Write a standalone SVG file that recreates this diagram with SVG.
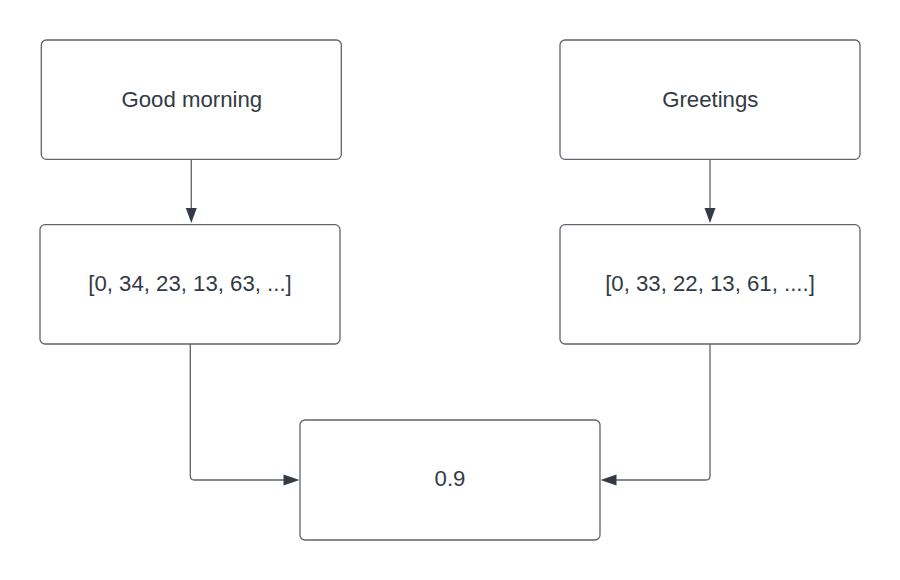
<svg xmlns="http://www.w3.org/2000/svg" width="900" height="580" viewBox="0 0 900 580">
<style>
.box{fill:#ffffff;stroke:#5f646c;stroke-width:1.3}
.lbl{font-family:"Liberation Sans",Arial,sans-serif;font-size:22.2px;fill:#333a45;text-anchor:middle}
.conn{fill:none;stroke:#5f646c;stroke-width:1.3}
.head{fill:#333a45}
</style>
<rect width="900" height="580" fill="#ffffff"/>
<g id="connectors">
<path class="conn" d="M191.3,159.3 V210"/>
<path class="head" d="M191.3,223 L185.8,208 L196.8,208 Z"/>
<path class="conn" d="M710,159.3 V210"/>
<path class="head" d="M710,223 L704.5,208 L715.5,208 Z"/>
<path class="conn" d="M190.3,344 V476 Q190.3,480 194.3,480 H286"/>
<path class="head" d="M299.5,480 L283.5,474.5 L283.5,485.5 Z"/>
<path class="conn" d="M710,344 V476 Q710,480 706,480 H614"/>
<path class="head" d="M600.5,480 L616.5,474.5 L616.5,485.5 Z"/>
</g>
<g id="n-good-morning">
<rect class="box" x="41.3" y="40" width="300" height="119.3" rx="5"/>
<text class="lbl" x="191.8" y="106.8">Good morning</text>
</g>
<g id="n-greetings">
<rect class="box" x="560" y="40" width="300" height="119.3" rx="5"/>
<text class="lbl" x="710.3" y="106.8">Greetings</text>
</g>
<g id="n-vec1">
<rect class="box" x="40" y="224.7" width="300" height="119.3" rx="5"/>
<text class="lbl" x="190" y="291">[0, 34, 23, 13, 63, ...]</text>
</g>
<g id="n-vec2">
<rect class="box" x="560" y="224.7" width="300" height="119.3" rx="5"/>
<text class="lbl" x="710" y="291">[0, 33, 22, 13, 61, ....]</text>
</g>
<g id="n-score">
<rect class="box" x="300" y="420" width="300" height="120" rx="5"/>
<text class="lbl" x="450" y="486">0.9</text>
</g>
</svg>
